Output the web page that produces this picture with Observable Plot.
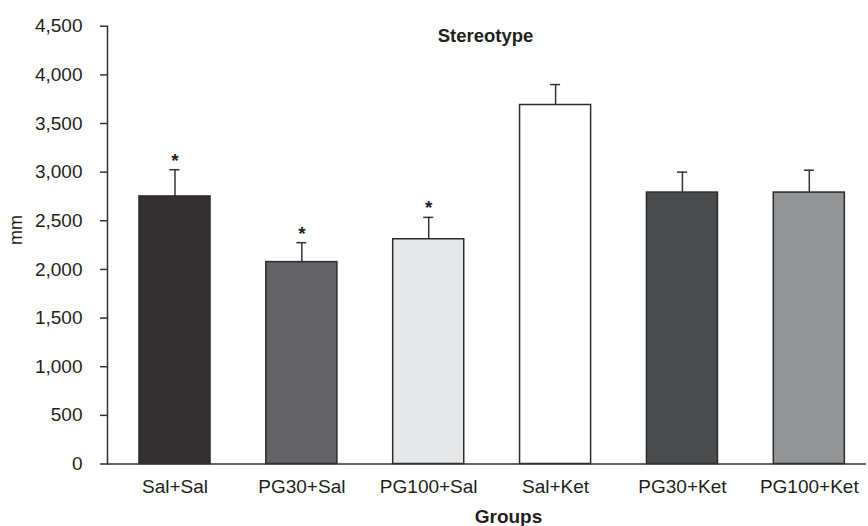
<!DOCTYPE html>
<html>
<head>
<meta charset="utf-8">
<script src="https://cdn.jsdelivr.net/npm/d3@7"></script>
<script src="https://cdn.jsdelivr.net/npm/@observablehq/plot@0.6"></script>
<style>
  html, body { margin: 0; padding: 0; background: #fff; }
  svg { display: block; }
</style>
</head>
<body>
<div id="chart"></div>
<script>
const groups = ["Sal+Sal", "PG30+Sal", "PG100+Sal", "Sal+Ket", "PG30+Ket", "PG100+Ket"];
const means = [2750, 2075, 2310, 3690, 2790, 2790];
const errorTops = [3025, 2275, 2535, 3900, 3000, 3020];
const significant = [true, true, true, false, false, false];
const barColors = ["#323031", "#636264", "#e6e7e8", "#ffffff", "#4a4b4d", "#939496"];
const yTicks = [0, 500, 1000, 1500, 2000, 2500, 3000, 3500, 4000, 4500];

const data = groups.map((g, i) => ({
  group: g, mean: means[i], top: errorTops[i], sig: significant[i], color: barColors[i]
}));

const font = "'Liberation Sans', Arial, Helvetica, sans-serif";
const ink = "#231f20";

const chart = Plot.plot({
  width: 868,
  height: 526,
  marginLeft: 107,
  marginRight: 2,
  marginTop: 25.7,
  marginBottom: 62.5,
  style: { fontFamily: font, color: ink, background: "#fff" },
  x: { type: "band", domain: groups, range: [107, 876.3], paddingInner: 0.44, paddingOuter: 0.252, round: false },
  y: { domain: [0, 4500] },
  color: { type: "identity" },
  marks: [
    Plot.ruleX(data, { x: "group", y1: "mean", y2: "top", stroke: "#333", strokeWidth: 1.5 }),
    Plot.tickY(data, { x: "group", y: "top", stroke: "#333", strokeWidth: 1.5, insetLeft: 30.5, insetRight: 30.5 }),
    Plot.barY(data, { x: "group", y: "mean", fill: "color", stroke: "#2b2b2b", strokeWidth: 1.5 }),
    Plot.text(data.filter(d => d.sig), { x: "group", y: "top", text: () => "*", lineAnchor: "bottom", dy: -3, fontSize: 19, fontWeight: "bold", fill: ink }),
    Plot.axisY({ ticks: yTicks, tickSize: 7, tickPadding: 18, fontSize: 19, label: null, stroke: "#333", strokeWidth: 1.5, tickFormat: d3.format(",") }),
    Plot.frame({ anchor: "left", stroke: "#333", strokeWidth: 1.5 }),
    Plot.axisX({ tickSize: 0, tickPadding: 15, fontSize: 19, label: null }),
    Plot.ruleY([0], { stroke: "#333", strokeWidth: 1.5 }),
    Plot.text(["Stereotype"], { frameAnchor: "top", dx: -1.5, dy: 10, lineAnchor: "middle", fontSize: 18.5, fontWeight: "bold", fill: ink }),
    Plot.text(["Groups"], { frameAnchor: "bottom", dx: 21.5, dy: 53, lineAnchor: "middle", fontSize: 19, fontWeight: "bold", fill: ink }),
    Plot.text(["mm"], { frameAnchor: "left", dx: -91, rotate: -90, lineAnchor: "middle", fontSize: 18, fill: ink })
  ]
});
document.getElementById("chart").appendChild(chart);
</script>
</body>
</html>
